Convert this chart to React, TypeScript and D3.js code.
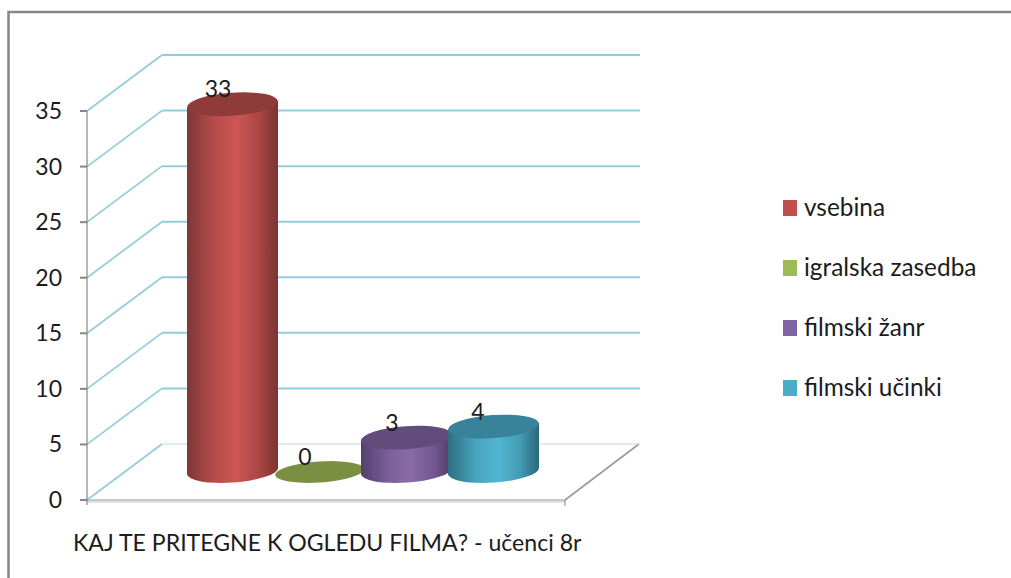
import React from "react";
import * as d3 from "d3";

const categories = ["vsebina", "igralska zasedba", "filmski žanr", "filmski učinki"];
const values = [33, 0, 3, 4];
const ticks = [0, 5, 10, 15, 20, 25, 30, 35];
const stops = [
  ["#7d3735", "#b64c4a", "#cd5654", "#a84644", "#7a3432"],
  ["#7b8f42", "#7b8f42", "#7b8f42", "#7b8f42", "#7b8f42"],
  ["#54406e", "#7a5f9c", "#8a6ba8", "#725892", "#4f3c68"],
  ["#2f6f83", "#46a3bd", "#52b6d2", "#429ab3", "#2b687b"],
];
const tops = ["#8f3b39", "#7b8f42", "#624c7b", "#38839a"];
const legendColors = ["#c0504d", "#9bbb59", "#8064a2", "#4bacc6"];
const title = "KAJ TE PRITEGNE K OGLEDU FILMA? - učenci 8r";

const font = "Lato, 'Open Sans', sans-serif";

export default function App() {
  const y = d3.scaleLinear().domain([0, 35]).range([500, 111]);
  const depthX = 75;
  const depthY = -56;
  const x = d3.scalePoint().domain(categories).range([187, 448]);
  const bw = 91;
  const baseY = 471;
  const unit = y(0) - y(1);
  const tilt = -4;
  const ry = 11.5;
  const lean = 3.2;

  return (
    <svg
      width={1011}
      height={578}
      style={{ position: "absolute", left: 0, top: 0, background: "#fff" }}
      fontFamily={font}
    >
      <defs>
        {categories.map((c, i) => (
          <linearGradient key={c} id={`g${i}`} x1="0" x2="1" y1="0" y2="0">
            {stops[i].map((s, j) => (
              <stop key={j} offset={[0, 0.3, 0.55, 0.8, 1][j]} stopColor={s} />
            ))}
          </linearGradient>
        ))}
      </defs>
      <path d="M8.5,578V12H1011" fill="none" stroke="#868686" strokeWidth={2.5} />

      {/* floor */}
      <line x1={87} x2={565} y1={501.5} y2={501.5} stroke="#e2e2e2" strokeWidth={3} />
      <line x1={87} x2={565} y1={500} y2={500} stroke="#a0a0a0" strokeWidth={1.2} />
      <line x1={565} y1={500} x2={639} y2={444} stroke="#9a9a9a" strokeWidth={1.6} />
      <line x1={565} y1={500} x2={565} y2={506} stroke="#888" strokeWidth={1} />

      {/* grid */}
      {ticks.map((t) => (
        <g key={t} fill="none">
          <path d={`M87,${y(t)}L${87 + depthX},${y(t) + depthY}`} stroke="#92cddc" strokeWidth={1.7} />
          <line
            x1={87 + depthX}
            x2={640}
            y1={y(t) + depthY}
            y2={y(t) + depthY}
            stroke={t === 0 ? "#bcdbe4" : "#92cddc"}
            strokeWidth={t === 0 ? 1 : 2}
          />
        </g>
      ))}

      {/* axis */}
      <line x1={87} x2={87} y1={y(35)} y2={y(0) + 5} stroke="#868686" strokeWidth={1.2} />
      {ticks.map((t) => (
        <g key={t}>
          <line x1={80} x2={87} y1={y(t)} y2={y(t)} stroke="#868686" strokeWidth={2} />
          <text x={62} y={y(t) + 8} fontSize={23} textAnchor="end" fill="#1c1c1c">
            {t}
          </text>
        </g>
      ))}

      {/* cylinders */}
      {categories.map((c, i) => {
        const x0 = x(c)!;
        const cx = x0 + bw / 2;
        const h = values[i] * unit;
        const topY = baseY - h;
        if (values[i] === 0) {
          return (
            <ellipse
              key={c}
              cx={cx}
              cy={baseY + 1}
              rx={bw / 2 - 1}
              ry={ry - 1}
              fill={tops[i]}
              transform={`rotate(${tilt} ${cx} ${baseY})`}
            />
          );
        }
        const r = bw / 2;
        return (
          <g key={c}>
            <path
              d={`M${x0},${topY + lean}L${x0},${baseY + lean}A${r},${ry} ${tilt} 0 0 ${x0 + bw},${baseY - lean}L${x0 + bw},${topY - lean}Z`}
              fill={`url(#g${i})`}
            />
            <ellipse
              cx={cx}
              cy={topY}
              rx={r}
              ry={ry}
              fill={tops[i]}
              transform={`rotate(${tilt} ${cx} ${topY})`}
            />
          </g>
        );
      })}

      {/* labels */}
      {categories.map((c, i) => {
        const pos = [218, 305, 392, 478][i];
        return (
          <text
            key={c}
            x={pos}
            y={baseY - values[i] * unit - 7 + [0, 1, 0, 0][i]}
            fontSize={23}
            textAnchor="middle"
            fill="#1c1c1c"
          >
            {values[i]}
          </text>
        );
      })}

      {/* legend */}
      {categories.map((c, i) => {
        const ly = [208, 268, 328, 388][i];
        return (
          <g key={c}>
            <rect x={783} y={ly - 8} width={14} height={16} fill={legendColors[i]} />
            <text x={804} y={ly + 8} fontSize={24.4} fill="#1c1c1c">
              {c}
            </text>
          </g>
        );
      })}

      <text x={73} y={551} fontSize={23.1} fill="#1c1c1c">
        {title}
      </text>
    </svg>
  );
}
